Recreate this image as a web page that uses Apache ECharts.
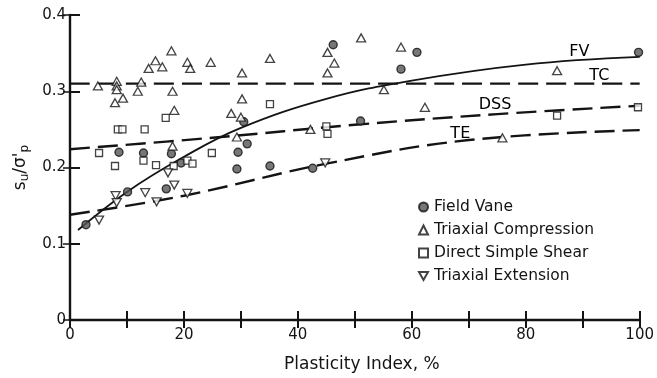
<!DOCTYPE html>
<html><head><meta charset="utf-8">
<script src="https://cdn.jsdelivr.net/npm/echarts@6/dist/echarts.min.js"></script>
<style>html,body{margin:0;padding:0;background:#fff}#c{width:657px;height:378px}</style>
</head><body><div id="c"></div>
<script>
// ---- data ----
var fieldVane = [[2.8,0.125],[8.6,0.220],[10.1,0.168],[12.9,0.219],[16.9,0.172],[17.8,0.218],[19.5,0.206],[29.3,0.198],[29.5,0.220],[30.5,0.260],[31.1,0.231],[35.1,0.202],[42.6,0.199],[46.2,0.361],[51.0,0.261],[58.1,0.329],[60.9,0.351],[99.8,0.351]];
var triaxialCompression = [[4.9,0.307],[8.2,0.313],[8.2,0.307],[8.2,0.302],[7.9,0.285],[9.3,0.291],[12.5,0.312],[11.9,0.300],[13.8,0.330],[15.0,0.340],[16.2,0.332],[17.8,0.353],[18.0,0.300],[18.3,0.275],[18.0,0.228],[20.6,0.338],[21.1,0.330],[24.7,0.338],[28.3,0.271],[29.3,0.240],[30.0,0.266],[30.2,0.290],[30.2,0.324],[35.1,0.343],[42.2,0.250],[45.2,0.351],[45.2,0.324],[46.4,0.337],[51.1,0.370],[55.1,0.302],[58.1,0.358],[62.3,0.279],[75.9,0.239],[85.5,0.327]];
var directSimpleShear = [[5.1,0.219],[7.9,0.202],[8.4,0.250],[9.2,0.250],[12.9,0.209],[13.1,0.250],[15.1,0.203],[16.8,0.265],[18.2,0.202],[20.6,0.209],[21.5,0.205],[24.9,0.219],[35.1,0.283],[45.0,0.254],[45.2,0.244],[85.5,0.268],[99.7,0.279]];
var triaxialExtension = [[5.1,0.131],[8.0,0.163],[8.2,0.154],[13.2,0.167],[15.2,0.155],[17.2,0.193],[18.3,0.177],[20.6,0.166],[44.8,0.206]];

var fvCurve = [[1.4,0.118],[10,0.168],[20,0.214],[30,0.252],[45,0.290],[60,0.314],[80,0.335],[100,0.345]];
var tcLine = [[0,0.31],[100,0.31]];
var dssCurve = [[0,0.224],[25,0.239],[50,0.256],[75,0.270],[100,0.281]];
var teCurve = [[0,0.138],[20,0.163],[45,0.205],[70,0.236],[100,0.249]];

var curveLabels = [{name:'FV', value:[89.5,0.351]},{name:'TC', value:[93,0.319]},{name:'DSS', value:[74.7,0.282]},{name:'TE', value:[68.6,0.243]}];

var xTicks = {min:0, max:100, step:10, labelEvery:20};
var yTicks = {min:0, max:0.4, step:0.1};

// ---- chart ----
var INK = '#141414';
var FONT = 'DejaVu Sans';
var chart = echarts.init(document.getElementById('c'), null, {renderer:'canvas'});
var downTri = 'path://M0,0 L10,0 L5,9 Z';
var hollow = {color:'#fff', borderColor:INK, borderWidth:1.3};

function dashed(name, data){
  return {name:name, type:'line', data:data, smooth:0.4, showSymbol:false, symbol:'none', silent:true,
    lineStyle:{color:INK, width:2.4, type:[20,8]}, z:2};
}

chart.setOption({
  animation:false,
  backgroundColor:'#fff',
  grid:{left:70, right:14, top:15, bottom:58, show:false},
  legend:{
    data:['Field Vane','Triaxial Compression','Direct Simple Shear','Triaxial Extension'],
    orient:'vertical', left:413, top:194, itemWidth:9, itemHeight:9, itemGap:7,
    textStyle:{color:INK, fontFamily:FONT, fontSize:15.5, lineHeight:15, padding:[0,0,0,1]},
    selectedMode:false
  },
  xAxis:[{
    type:'value', min:xTicks.min, max:xTicks.max, interval:xTicks.step,
    name:'Plasticity Index, %', nameLocation:'middle', nameGap:36,
    nameTextStyle:{color:INK, fontFamily:FONT, fontSize:17, padding:[0,0,0,14]},
    axisLine:{show:true, lineStyle:{color:INK, width:2.4}},
    axisTick:{show:true, inside:true, length:9, lineStyle:{color:INK, width:2}},
    axisLabel:{color:INK, fontFamily:FONT, fontSize:15, margin:8,
      formatter:function(v){return (v % xTicks.labelEvery === 0) ? String(v) : '';}},
    splitLine:{show:false}
  },{
    type:'value', position:'top', min:xTicks.min, max:xTicks.max, interval:xTicks.step,
    axisLine:{show:true, lineStyle:{color:INK, width:2}},
    axisTick:{show:true, inside:true, length:8, lineStyle:{color:INK, width:2}},
    axisLabel:{show:false}, splitLine:{show:false}
  }],
  yAxis:[{
    type:'value', min:yTicks.min, max:yTicks.max, interval:yTicks.step,
    name:"{s|s}{sub|u}{s|/σ'}{sub|p}", nameLocation:'middle', nameGap:38, nameRotate:90,
    nameTextStyle:{color:INK, fontFamily:FONT, fontSize:17,
      rich:{s:{fontSize:17, fontFamily:FONT, color:INK, lineHeight:22}, sub:{fontSize:12, fontFamily:FONT, color:INK, verticalAlign:'bottom', lineHeight:22}}},
    axisLine:{show:true, lineStyle:{color:INK, width:2.4}},
    axisTick:{show:true, inside:true, length:10, lineStyle:{color:INK, width:2}},
    axisLabel:{color:INK, fontFamily:FONT, fontSize:15, margin:4,
      formatter:function(v){return v === 0 ? '0' : v.toFixed(1);}},
    splitLine:{show:false}
  },{
    type:'value', position:'right', min:yTicks.min, max:yTicks.max, interval:yTicks.step,
    axisLine:{show:true, lineStyle:{color:INK, width:2}},
    axisTick:{show:true, inside:true, length:7, lineStyle:{color:INK, width:1.5}},
    axisLabel:{show:false}, splitLine:{show:false}
  }],
  series:[
    {name:'FV curve', type:'line', data:fvCurve, smooth:0.4, showSymbol:false, symbol:'none', silent:true,
      lineStyle:{color:INK, width:1.8}, z:2},
    dashed('TC line', tcLine),
    dashed('DSS curve', dssCurve),
    dashed('TE curve', teCurve),
    {name:'labels', type:'scatter', data:curveLabels, symbolSize:1, silent:true,
      itemStyle:{opacity:0},
      label:{show:true, position:[0,0], align:'center', verticalAlign:'middle', formatter:'{b}',
        color:'#000', opacity:1, fontFamily:FONT, fontSize:16}, z:4},
    {name:'Field Vane', type:'scatter', data:fieldVane, symbol:'circle', symbolSize:8,
      itemStyle:{color:'#555', borderColor:INK, borderWidth:1.4}, z:5},
    {name:'Triaxial Compression', type:'scatter', data:triaxialCompression, symbol:'triangle', symbolSize:[9,8],
      itemStyle:hollow, z:5},
    {name:'Direct Simple Shear', type:'scatter', data:directSimpleShear, symbol:'rect', symbolSize:7,
      itemStyle:hollow, z:5},
    {name:'Triaxial Extension', type:'scatter', data:triaxialExtension, symbol:downTri, symbolSize:[9,8],
      itemStyle:hollow, z:5}
  ]
});
</script></body></html>
